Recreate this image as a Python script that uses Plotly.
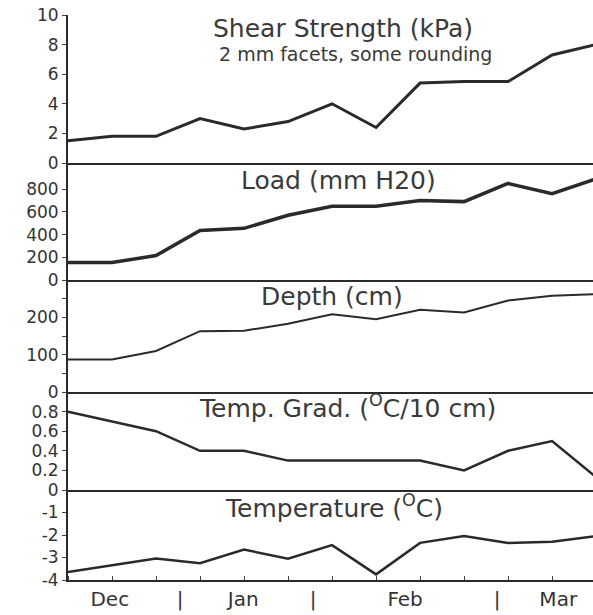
import plotly.graph_objects as go

idx = list(range(13))
shear = [1.5, 1.8, 1.8, 3.0, 2.3, 2.8, 4.0, 2.4, 5.4, 5.5, 5.5, 7.3, 8.0]
load = [155, 155, 215, 435, 455, 570, 650, 650, 700, 690, 850, 760, 890]
depth = [87, 87, 110, 163, 164, 183, 208, 195, 220, 213, 245, 258, 262]
tgrad = [0.8, 0.7, 0.6, 0.4, 0.4, 0.3, 0.3, 0.3, 0.3, 0.2, 0.4, 0.5, 0.13]
temp = [-3.65, -3.35, -3.05, -3.25, -2.65, -3.05, -2.45, -3.75, -2.35, -2.05, -2.35, -2.3, -2.05]

month_pos = [0.95, 2.55, 3.98, 5.57, 7.66, 9.75, 11.14]
month_txt = ["Dec", "|", "Jan", "|", "Feb", "|", "Mar"]

W, H, L = 593, 615, 68
def py(p):
    return 1 - p / H
def px(p):
    return (p - L) / (W - L)

series = [shear, load, depth, tgrad, temp]
widths = [3, 3.5, 2, 2.5, 2.5]
bounds = [(15, 163), (163, 280), (280, 392), (392, 490), (490, 580)]
yranges = [[0, 10], [0, 1030], [0, 300], [0, 1], [-4, 0]]
ytickvals = [[0, 2, 4, 6, 8, 10], [0, 200, 400, 600, 800], [0, 100, 200],
             [0, 0.2, 0.4, 0.6, 0.8], [-4, -3, -2, -1]]
yticktext = [["0", "2", "4", "6", "8", "10"], ["0", "200", "400", "600", "800"],
             ["0", "100", "200"], ["0", "0.2", "0.4", "0.6", "0.8"],
             ["-4", "-3", "-2", "-1"]]

LINE = "#2a2a2a"
fig = go.Figure()
layout = {}
for i, vals in enumerate(series):
    n = "" if i == 0 else str(i + 1)
    fig.add_trace(go.Scatter(x=idx, y=vals, mode="lines",
                             line=dict(color=LINE, width=widths[i]),
                             xaxis="x" + n, yaxis="y" + n,
                             showlegend=False, hoverinfo="skip"))
    top, bot = bounds[i]
    xa = dict(domain=[0, 1], anchor="y" + n, range=[0, 11.93], automargin=False,
              showline=True, linecolor=LINE, linewidth=2, ticks="",
              showticklabels=False, showgrid=False, zeroline=False)
    if i > 0:
        xa["matches"] = "x"
    if i == 4:
        xa.update(showticklabels=True, tickmode="array", tickvals=month_pos,
                  ticktext=month_txt, tickfont=dict(size=20),
                  minor=dict(tickmode="linear", tick0=0, dtick=1,
                             ticks="inside", ticklen=4, tickcolor="#444",
                             tickwidth=1, showgrid=False))
    ya = dict(domain=[py(bot), py(top)], anchor="x" + n, range=yranges[i],
              automargin=False,
              showline=True, linecolor=LINE, linewidth=2, ticks="outside",
              ticklen=4, tickcolor="#444", tickmode="array",
              tickvals=ytickvals[i], ticktext=yticktext[i],
              tickfont=dict(size=17), showgrid=False, zeroline=False)
    if i == 2:
        ya["minor"] = dict(tickmode="linear", tick0=0, dtick=50,
                           ticks="outside", ticklen=4, tickcolor="#444")
    layout["xaxis" + n] = xa
    layout["yaxis" + n] = ya

layout["xaxis6"] = dict(overlaying="x", anchor="y", side="top", range=[0, 11.93],
                        automargin=False,
                        showline=True, linecolor="#888", linewidth=1.5,
                        ticks="", showticklabels=False, showgrid=False,
                        zeroline=False)

titles = [
    ("Shear Strength (kPa)", 343, 28, 25),
    ("2 mm facets, some rounding", 355, 54, 19),
    ("Load (mm H20)", 338, 180, 25),
    ("Depth (cm)", 332, 296, 25),
    ("Temp. Grad. (<sup>O</sup>C/10 cm)", 347, 406, 25),
    ("Temperature (<sup>O</sup>C)", 334, 506, 25),
]
annotations = [dict(text=t, x=px(x), y=py(y), xref="paper", yref="paper",
                    xanchor="center", yanchor="middle", showarrow=False,
                    font=dict(size=s, color="#3a3a3a"))
               for t, x, y, s in titles]

fig.update_layout(**layout)
fig.update_layout(width=W, height=H, margin=dict(l=L, r=0, t=0, b=0),
                  paper_bgcolor="white", plot_bgcolor="white",
                  font=dict(family="DejaVu Sans", color="#333"),
                  annotations=annotations)
fig.write_html("out.html")
